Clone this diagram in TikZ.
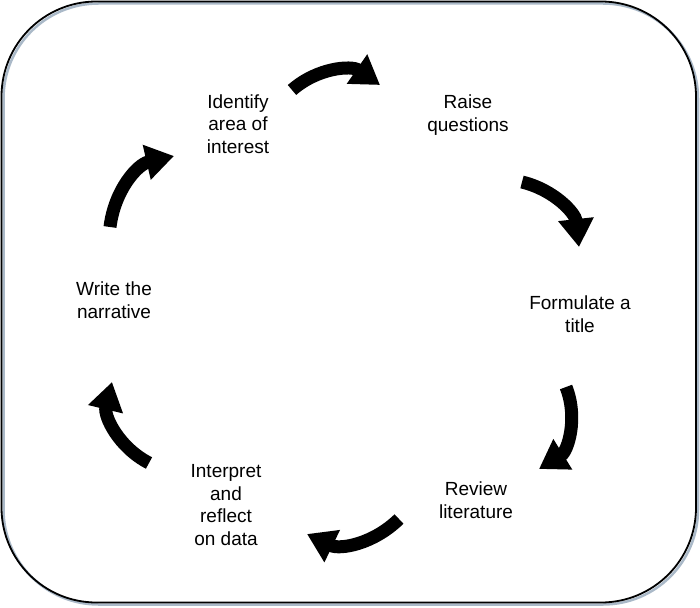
\documentclass[tikz,border=0pt]{standalone}
\usepackage{fontspec}
\setmainfont{Liberation Sans}
\usetikzlibrary{arrows.meta}
\definecolor{shadowc}{RGB}{170,185,200}
\tikzset{
  lbl/.style={align=center, inner sep=0pt, font=\fontsize{19}{22.5}\selectfont},
  cyc/.style={line width=13pt, -{Triangle[width=34pt,length=28pt]}},
}
\begin{document}
\begin{tikzpicture}[x=1pt,y=-1pt]
\useasboundingbox (0,0) rectangle (700,607);
\draw[shadowc, line width=2.5pt, rounded corners=95pt] (3.5,3.5) rectangle (698,604.5);
\draw[black, line width=1.8pt, rounded corners=95pt] (1.5,1.5) rectangle (696,602.5);
\node[lbl] (id) at (238,124) {Identify\\area of\\interest};
\node[lbl] (rq) at (468,115) {Raise\\questions};
\node[lbl] (ft) at (580,314) {Formulate a\\title};
\node[lbl] (rl) at (476,500) {Review\\literature};
\node[lbl] (ir) at (226,505) {Interpret\\and\\reflect\\on data};
\node[lbl] (wn) at (114,300) {Write the\\narrative};
\coordinate (a1s) at (292,90);  \coordinate (a1e) at (380,85);
\coordinate (a2s) at (522,182); \coordinate (a2e) at (579,247);
\coordinate (a3s) at (566,387); \coordinate (a3e) at (539,469);
\coordinate (a4s) at (399,519); \coordinate (a4e) at (307,534);
\coordinate (a5s) at (149,463); \coordinate (a5e) at (112,382);
\coordinate (a6s) at (110,227); \coordinate (a6e) at (174,156);
\draw[cyc] (a1s) to[bend left=38] (a1e);
\draw[cyc] (a2s) to[bend left=35] (a2e);
\draw[cyc] (a3s) to[bend left=40] (a3e);
\draw[cyc] (a4s) to[bend left=35] (a4e);
\draw[cyc] (a5s) to[bend left=38] (a5e);
\draw[cyc] (a6s) to[bend left=35] (a6e);
\end{tikzpicture}
\end{document}
